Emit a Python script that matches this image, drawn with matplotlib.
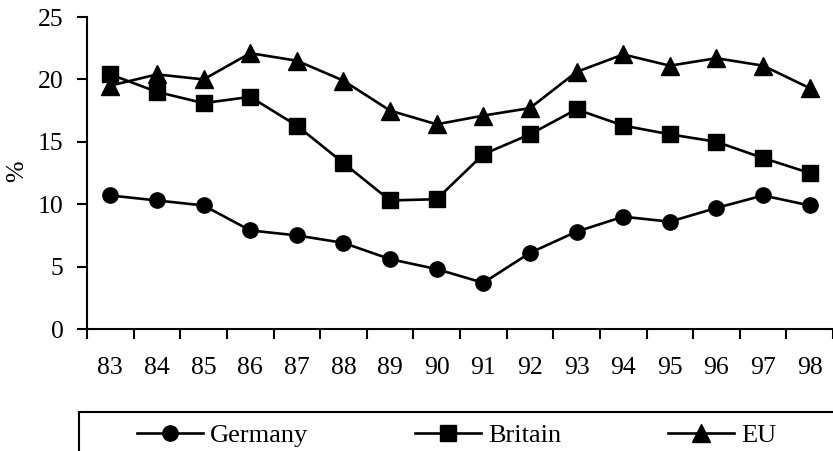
import matplotlib
matplotlib.use("Agg")
import matplotlib.pyplot as plt
from matplotlib.patches import Rectangle
import numpy as np

plt.rcParams["font.family"] = ["Liberation Serif", "DejaVu Serif"]

years = ["83", "84", "85", "86", "87", "88", "89", "90",
         "91", "92", "93", "94", "95", "96", "97", "98"]
germany = [10.7, 10.3, 9.9, 7.9, 7.5, 6.9, 5.6, 4.8,
           3.7, 6.1, 7.8, 9.0, 8.6, 9.7, 10.7, 9.9]
britain = [20.4, 19.0, 18.1, 18.6, 16.3, 13.3, 10.3, 10.4,
           14.0, 15.6, 17.6, 16.3, 15.6, 15.0, 13.7, 12.5]
eu = [19.5, 20.4, 20.0, 22.1, 21.5, 19.9, 17.5, 16.4,
      17.1, 17.7, 20.6, 22.0, 21.1, 21.7, 21.1, 19.3]
yticks = [0, 5, 10, 15, 20, 25]

W, H = 833, 451
fig = plt.figure(figsize=(W / 100, H / 100), dpi=100)
ax = fig.add_axes([87 / W, (H - 329) / H, (W - 87) / W, (329 - 17) / H])

x = np.arange(len(years))
lw = 1.9
l1, = ax.plot(x, germany, color="black", lw=lw, marker="o", ms=11,
              label="Germany", clip_on=False)
l2, = ax.plot(x, britain, color="black", lw=lw, marker="s", ms=11.5,
              label="Britain", clip_on=False)
l3, = ax.plot(x, eu, color="black", lw=lw, marker="^", ms=13,
              label="EU", clip_on=False)

ax.set_xlim(-0.5, len(years) - 0.5)
ax.set_ylim(0, 25)
ax.set_yticks(yticks)
ax.set_yticklabels([str(v) for v in yticks])

# category boundaries carry the tick marks, labels sit at the centres
ax.set_xticks(np.arange(-0.5, len(years), 1.0))
ax.set_xticklabels([])
ax.set_xticks(x, minor=True)
ax.set_xticklabels(years, minor=True)
ax.tick_params(axis="x", which="major", direction="out", length=7, width=1.5)
ax.tick_params(axis="x", which="minor", length=0, pad=20, labelsize=18.5)
ax.tick_params(axis="y", direction="out", length=7, width=1.5, pad=10,
               labelsize=18.5)

for side in ("top", "right"):
    ax.spines[side].set_visible(False)
for side in ("left", "bottom"):
    ax.spines[side].set_linewidth(1.5)

fig.text(17 / W, (H - 171) / H, "%", rotation=90, fontsize=18.5,
         ha="center", va="center")

# legend box running off the lower-right of the figure
fig.patches.append(Rectangle((79 / W, -0.2), 1.0, (H - 412) / H + 0.2,
                             transform=fig.transFigure, fill=False,
                             edgecolor="black", lw=1.5, clip_on=False))
fig.legend(handles=[l1, l2, l3], loc="upper left",
           bbox_to_anchor=(137 / W, (H - 424) / H), ncol=3, frameon=False,
           borderpad=0, borderaxespad=0, handlelength=2.5,
           handletextpad=0.27, columnspacing=4.05, prop={"size": 19})

fig.savefig("out.png", dpi=100)
